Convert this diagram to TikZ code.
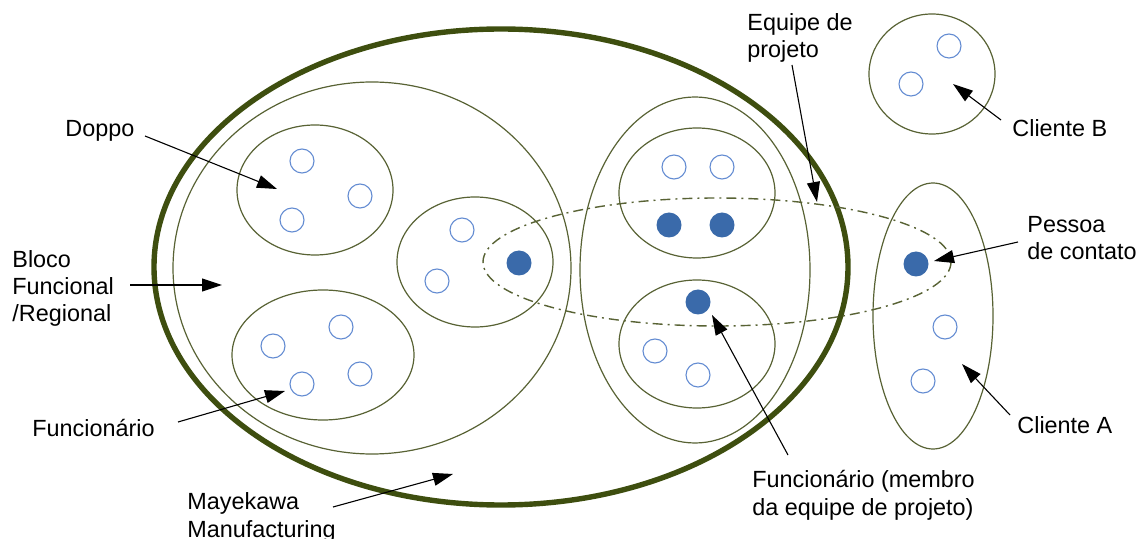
\documentclass[tikz,border=0pt]{standalone}
\usepackage{fontspec}
\setmainfont{Liberation Sans}
\usetikzlibrary{arrows.meta}
\definecolor{olivethick}{RGB}{62,78,15}
\definecolor{olivethin}{RGB}{88,98,52}
\definecolor{personline}{RGB}{100,140,210}
\definecolor{personfill}{RGB}{58,106,170}
\tikzset{
  groupline/.style={draw=olivethin, line width=0.6pt},
  companyline/.style={draw=olivethick, line width=2.7pt},
  teamline/.style={draw=olivethin, line width=0.7pt, dash pattern=on 5pt off 2.5pt on 1pt off 2.5pt},
  person/.style={circle, draw=personline, line width=0.55pt, minimum size=12pt, inner sep=0pt},
  member/.style={circle, fill=personfill, minimum size=12.5pt, inner sep=0pt},
  lbl/.style={inner sep=0pt, anchor=base west, align=left, font=\fontsize{11.7}{13.5}\selectfont},
  pointer/.style={draw=black, line width=0.55pt, -{Triangle[length=10pt,width=6.5pt]}}
}
\begin{document}
\begin{tikzpicture}[x=0.5pt,y=-0.5pt]
\useasboundingbox (0,0) rectangle (1140,539);
% company
\draw[companyline] (501,267) ellipse [x radius=347, y radius=238];
% functional block
\draw[groupline] (372,268) ellipse [x radius=199, y radius=186];
% doppos
\draw[groupline] (315,190) ellipse [x radius=78, y radius=65];
\draw[groupline] (323,355) ellipse [x radius=91, y radius=65];
\draw[groupline] (475,262) ellipse [x radius=78, y radius=65];
% right group
\draw[groupline] (695,270) ellipse [x radius=115, y radius=173];
\draw[groupline] (697,193) ellipse [x radius=78, y radius=65];
\draw[groupline] (697,344) ellipse [x radius=78, y radius=64];
% project team
\draw[teamline] (717,262) ellipse [x radius=234, y radius=64];
% clients
\draw[groupline] (933,316) ellipse [x radius=60, y radius=133];
\draw[groupline] (932,74) ellipse [x radius=63, y radius=60];
% people
\node[person] (p1) at (302,161) {};
\node[person] (p2) at (360,196) {};
\node[person] (p3) at (292,220) {};
\node[person] (p4) at (273,346) {};
\node[person] (p5) at (341,327) {};
\node[person] (p6) at (360,374) {};
\node[person] (p7) at (302,384) {};
\node[person] (p8) at (462,230) {};
\node[person] (p9) at (437,281) {};
\node[member] (m1) at (519,263) {};
\node[person] (p10) at (674,167) {};
\node[person] (p11) at (722,167) {};
\node[member] (m2) at (669,225) {};
\node[member] (m3) at (722,225) {};
\node[member] (m4) at (698,302) {};
\node[person] (p12) at (655,351) {};
\node[person] (p13) at (698,375) {};
\node[member] (m5) at (916,264) {};
\node[person] (p14) at (945,327) {};
\node[person] (p15) at (923,381) {};
\node[person] (p16) at (949,46) {};
\node[person] (p17) at (911,84) {};
% labels (multi-line labels are anchored at the baseline of their last line)
\node[lbl] (doppo) at (65,137) {Doppo};
\node[lbl] (bloco) at (12,322) {Bloco\\Funcional\\/Regional};
\node[lbl] (func) at (32,437) {Funcionário};
\node[lbl] (maye) at (187,537) {Mayekawa\\Manufacturing};
\node[lbl] (equipe) at (747,58) {Equipe de\\projeto};
\node[lbl] (clb) at (1012,137) {Cliente B};
\node[lbl] (pessoa) at (1027,260) {Pessoa\\de contato};
\node[lbl] (cla) at (1017,433) {Cliente A};
\node[lbl] (membro) at (752,515) {Funcionário (membro\\da equipe de projeto)};
% arrow ends
\coordinate (sDoppo) at (145,136);  \coordinate (tDoppo) at (277,189);
\coordinate (sBloco) at (130,285);  \coordinate (tBloco) at (222,285);
\coordinate (sFunc) at (178,422);   \coordinate (tFunc) at (285,391);
\coordinate (sMaye) at (333,507);   \coordinate (tMaye) at (453,474);
\coordinate (sEquipe) at (792,65);  \coordinate (tEquipe) at (817,202);
\coordinate (sClb) at (1001,120);   \coordinate (tClb) at (953,84);
\coordinate (sPessoa) at (1018,242);\coordinate (tPessoa) at (934,261);
\coordinate (sCla) at (1010,415);   \coordinate (tCla) at (962,364);
\coordinate (sMembro) at (788,455); \coordinate (tMembro) at (712,315);
\draw[pointer] (sDoppo) -- (tDoppo);
\draw[pointer] (sBloco) -- (tBloco);
\draw[pointer] (sFunc) -- (tFunc);
\draw[pointer] (sMaye) -- (tMaye);
\draw[pointer] (sEquipe) -- (tEquipe);
\draw[pointer] (sClb) -- (tClb);
\draw[pointer] (sPessoa) -- (tPessoa);
\draw[pointer] (sCla) -- (tCla);
\draw[pointer] (sMembro) -- (tMembro);
\end{tikzpicture}
\end{document}
